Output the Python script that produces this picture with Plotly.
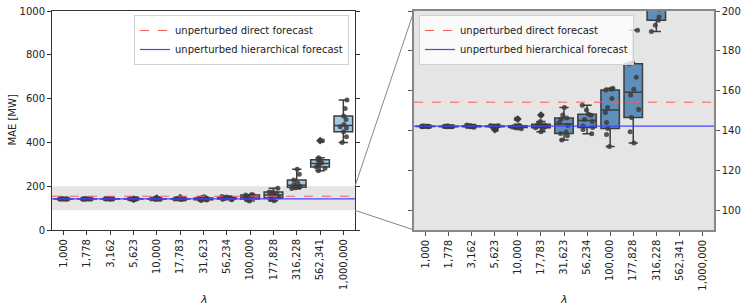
import plotly.graph_objects as go

# ---------------- data ----------------
lambdas = ["1,000", "1,778", "3,162", "5,623", "10,000", "17,783", "31,623",
           "56,234", "100,000", "177,828", "316,228", "562,341", "1,000,000"]

mae_1000 = [141.9, 141.9, 142.0, 142.0, 142.0, 142.1, 142.1, 142.1, 142.2, 142.2]
mae_1778 = [141.8, 141.9, 141.9, 142.0, 142.0, 142.0, 142.1, 142.1, 142.2, 142.2]
mae_3162 = [141.6, 141.8, 141.9, 142.0, 142.1, 142.2, 142.3, 142.4, 142.5, 142.7]
mae_5623 = [140.4, 141.7, 141.9, 142.0, 142.0, 142.1, 142.2, 142.3, 142.4, 142.5]
mae_10000 = [140.9, 141.2, 141.5, 141.7, 141.9, 142.0, 142.2, 142.4, 142.6, 145.7]
mae_17783 = [139.3, 140.8, 141.3, 142.0, 142.1, 142.3, 142.7, 143.1, 144.5, 147.7]
mae_31623 = [135.2, 137.3, 138.5, 139.2, 142.5, 143.9, 145.6, 146.2, 147.8, 151.5]
mae_56234 = [138.3, 140.5, 141.5, 142.3, 144.5, 145.5, 147.6, 148.2, 150.3, 152.7]
mae_100000 = [132.0, 138.0, 141.0, 144.0, 149.0, 151.5, 156.0, 160.3, 160.7, 161.2]
mae_177828 = [133.7, 139.3, 146.5, 150.5, 157.8, 160.7, 166.7, 173.5, 174.0, 190.3]
mae_316228 = [189.7, 192.8, 195.3, 197.0, 201.0, 207.0, 215.0, 228.0, 254.0, 277.0]
mae_562341 = [271.0, 282.0, 288.0, 292.0, 301.0, 307.0, 317.0, 321.0, 330.0, 408.0]
mae_1000000 = [399.0, 426.0, 449.0, 466.0, 472.0, 482.0, 505.0, 521.0, 555.0, 594.0]

runs = [mae_1000, mae_1778, mae_3162, mae_5623, mae_10000, mae_17783, mae_31623,
        mae_56234, mae_100000, mae_177828, mae_316228, mae_562341, mae_1000000]

direct_mae = 154.2
hierarchical_mae = 142.2

y_full = [0, 1000]
y_zoom = [90, 200]
y_full_ticks = [0, 200, 400, 600, 800, 1000]
y_zoom_ticks = [100, 120, 140, 160, 180, 200]

# ---------------- layout geometry ----------------
W, H = 748, 308
ml, mr, mt, mb = 52, 34, 11, 78
pw = W - ml - mr
ph = H - mt - mb
d1 = [0, (355 - ml) / pw]
d2 = [(414 - ml) / pw, 1]

n = len(lambdas)
xs = [i for i, r in enumerate(runs) for _ in r]
ys = [v for r in runs for v in r]
x_lo, x_hi = -0.5, n - 0.5

FONT = "DejaVu Sans"
dark = "#3d3d3d"

fig = go.Figure()

panels = [("x", "y", "#a4c7e0", "legend"), ("x2", "y2", "#5d8fba", "legend2")]
for xa, ya, fill, lg in panels:
    fig.add_trace(go.Scatter(x=[x_lo, x_hi], y=[direct_mae, direct_mae], mode="lines",
                             line=dict(color="#ff5a5a", width=1, dash="dash"),
                             name="unperturbed direct forecast", xaxis=xa, yaxis=ya,
                             legend=lg, hoverinfo="skip"))
    fig.add_trace(go.Scatter(x=[x_lo, x_hi], y=[hierarchical_mae, hierarchical_mae], mode="lines",
                             line=dict(color="#4444ff", width=1.2),
                             name="unperturbed hierarchical forecast", xaxis=xa, yaxis=ya,
                             legend=lg, hoverinfo="skip"))
    fig.add_trace(go.Box(x=xs, y=ys, xaxis=xa, yaxis=ya, boxpoints="outliers",
                         quartilemethod="inclusive", width=0.8, whiskerwidth=0.5,
                         fillcolor=fill, line=dict(color=dark, width=1.5),
                         marker=dict(symbol="diamond", color=dark, size=6),
                         showlegend=False))
    fig.add_trace(go.Box(x=xs, y=ys, xaxis=xa, yaxis=ya, boxpoints="all",
                         jitter=0.6, pointpos=0, width=0.8,
                         fillcolor="rgba(0,0,0,0)", line=dict(color="rgba(0,0,0,0)", width=0),
                         marker=dict(color="rgba(60,60,60,0.85)", size=5),
                         showlegend=False))

axis_common = dict(tickvals=list(range(n)), ticktext=lambdas, tickangle=-90,
                   range=[x_lo, x_hi], ticks="outside", ticklen=4, showgrid=False,
                   zeroline=False, showline=True, mirror=True, automargin=False,
                   tickfont=dict(size=10))

yaxis_common = dict(ticks="outside", ticklen=4, showgrid=False, zeroline=False,
                    automargin=False, showline=True, mirror="ticks",
                    ticklabeloverflow="allow", tickfont=dict(size=10))

fig.update_layout(
    width=W, height=H, margin=dict(l=ml, r=mr, t=mt, b=mb, autoexpand=False),
    paper_bgcolor="white", plot_bgcolor="white", boxmode="overlay",
    font=dict(family=FONT, size=10, color="#222"),
    xaxis=dict(domain=d1, anchor="y", linecolor="#333", linewidth=1, tickcolor="#333",
               **axis_common),
    yaxis=dict(domain=[0, 1], anchor="x", range=y_full, tickvals=y_full_ticks,
               linecolor="#333", linewidth=1, tickcolor="#333", **yaxis_common),
    xaxis2=dict(domain=d2, anchor="y2", linecolor="#888", linewidth=1.5, tickcolor="#555",
                **axis_common),
    yaxis2=dict(domain=[0, 1], anchor="x2", side="right", range=y_zoom, tickvals=y_zoom_ticks,
                linecolor="#888", linewidth=1.5, tickcolor="#555", **yaxis_common),
    legend=dict(x=(349 - ml) / pw, xanchor="right", y=1 - 4 / ph, yanchor="top",
                bgcolor="rgba(255,255,255,0.8)", bordercolor="#d0d0d0", borderwidth=1,
                font=dict(size=10), tracegroupgap=0),
    legend2=dict(x=(419 - ml) / pw, xanchor="left", y=1 - 4 / ph, yanchor="top",
                 bgcolor="rgba(255,255,255,0.8)", bordercolor="#d0d0d0", borderwidth=1,
                 font=dict(size=10), tracegroupgap=0),
    showlegend=True,
)

# axis titles as annotations (positions in screen pixels converted to paper coords)
title_y = -(299 - (H - mb)) / ph
for d in (d1, d2):
    fig.add_annotation(text="<i>λ</i>", xref="paper", yref="paper", x=(d[0] + d[1]) / 2,
                       y=title_y, xanchor="center", yanchor="middle", showarrow=False,
                       font=dict(size=11))
fig.add_annotation(text="MAE [MW]", xref="paper", yref="paper", x=-(ml - 12) / pw, y=0.5,
                   xanchor="center", yanchor="middle", textangle=-90, showarrow=False,
                   font=dict(size=10))

# shaded zoom band in left panel and grey background of zoom panel
fig.add_shape(type="rect", xref="x domain", yref="y", x0=0, x1=1, y0=y_zoom[0], y1=y_zoom[1],
              fillcolor="#e5e5e5", line=dict(width=0), layer="below")
fig.add_shape(type="rect", xref="x2 domain", yref="y2 domain", x0=0, x1=1, y0=0, y1=1,
              fillcolor="#e5e5e5", line=dict(width=0), layer="below")

# connector lines between panels
span = y_full[1] - y_full[0]
fig.add_shape(type="line", xref="paper", yref="paper", x0=d1[1], x1=d2[0],
              y0=(y_zoom[1] - y_full[0]) / span, y1=1, line=dict(color="#888", width=1))
fig.add_shape(type="line", xref="paper", yref="paper", x0=d1[1], x1=d2[0],
              y0=(y_zoom[0] - y_full[0]) / span, y1=0, line=dict(color="#888", width=1))

# remove the browser's default page margin so the figure fills the window exactly
fig.write_html("out.html", config={"displayModeBar": False},
               post_script="document.body.style.margin='0';")
